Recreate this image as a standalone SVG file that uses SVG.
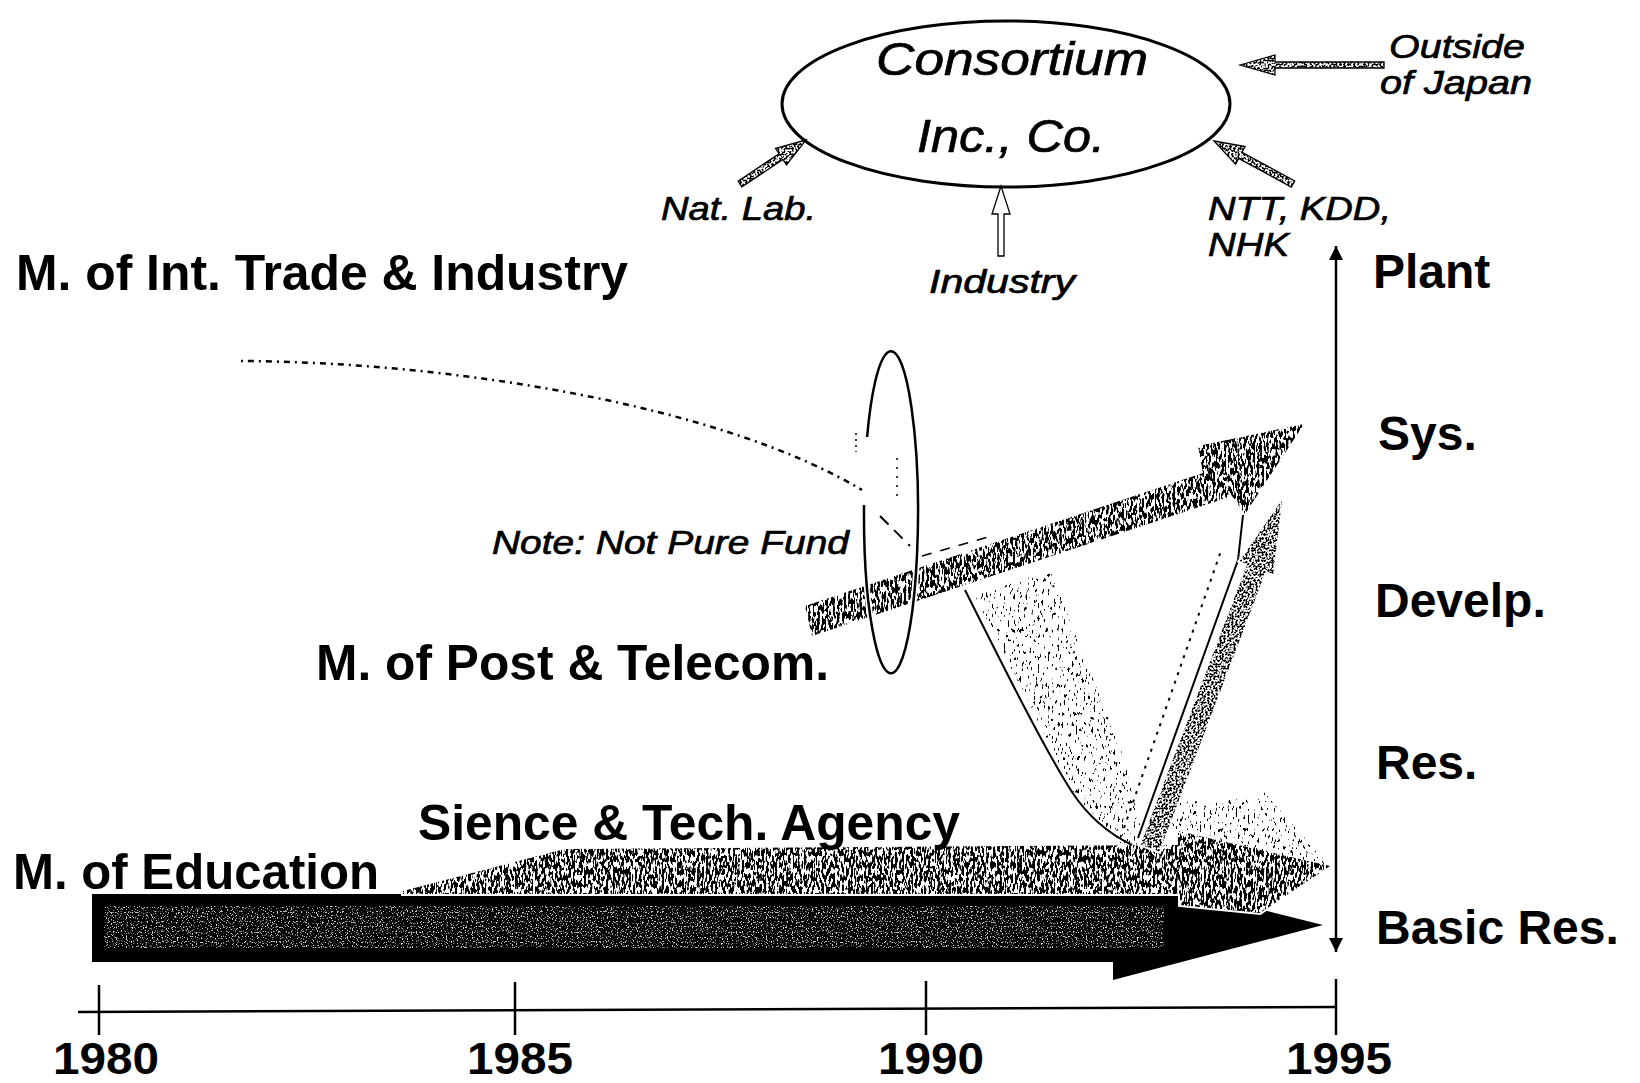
<svg xmlns="http://www.w3.org/2000/svg" width="1640" height="1083" viewBox="0 0 1640 1083">
<style>
  .lbl { font-family: "Liberation Sans", Arial, sans-serif; font-weight: bold; fill: #000; }
  .cond { font-family: "Liberation Sans", Arial, sans-serif; font-weight: bold; fill: #000; }
  .it { font-family: "Liberation Sans", Arial, sans-serif; font-style: italic; fill: #000; stroke: #000; stroke-width: 0.7; }
  .line { fill: none; stroke: #000; }
  .small { stroke: #000; stroke-width: 1.3; fill: #fff; }
</style>
<defs>
  <filter id="spk" x="0" y="0" width="1" height="1" filterUnits="objectBoundingBox">
    <feTurbulence type="fractalNoise" baseFrequency="0.45 0.16" numOctaves="2" seed="4" result="n"/>
    <feColorMatrix in="n" type="matrix" values="0 0 0 0 0  0 0 0 0 0  0 0 0 0 0  16 0 0 0 -7.4" result="d"/>
    <feComposite in="d" in2="SourceAlpha" operator="in"/>
  </filter>
  <filter id="spkMid" x="0" y="0" width="1" height="1" filterUnits="objectBoundingBox">
    <feTurbulence type="fractalNoise" baseFrequency="0.5" numOctaves="2" seed="9" result="n"/>
    <feColorMatrix in="n" type="matrix" values="0 0 0 0 0  0 0 0 0 0  0 0 0 0 0  16 0 0 0 -7.6" result="d"/>
    <feComposite in="d" in2="SourceAlpha" operator="in"/>
  </filter>
  <filter id="spkLight" x="0" y="0" width="1" height="1" filterUnits="objectBoundingBox">
    <feTurbulence type="fractalNoise" baseFrequency="0.5 0.18" numOctaves="2" seed="2" result="n"/>
    <feColorMatrix in="n" type="matrix" values="0 0 0 0 0  0 0 0 0 0  0 0 0 0 0  18 0 0 0 -11.6" result="d"/>
    <feComposite in="d" in2="SourceAlpha" operator="in"/>
  </filter>
  <filter id="spkWhite" x="0" y="0" width="1" height="1" filterUnits="objectBoundingBox">
    <feTurbulence type="fractalNoise" baseFrequency="0.8" numOctaves="1" seed="7" result="n"/>
    <feColorMatrix in="n" type="matrix" values="0 0 0 0 0.6  0 0 0 0 0.6  0 0 0 0 0.6  10 0 0 0 -5.6" result="d"/>
    <feComposite in="d" in2="SourceAlpha" operator="in"/>
  </filter>
  <marker id="ah" viewBox="0 0 14 24" refX="14" refY="12" markerWidth="14" markerHeight="24" markerUnits="userSpaceOnUse" orient="auto-start-reverse">
    <path d="M0,5 L14,12 L0,19 Z" fill="#000"/>
  </marker>
</defs>
<rect width="1640" height="1083" fill="#fff"/>

<g id="education-bar">
  <polygon points="92,894 1200,894 1323,925 1113,980 1113,962 92,962" fill="#000"/>
  <rect x="104" y="906" width="1060" height="42" fill="#000" filter="url(#spkWhite)"/>
</g>

<g id="sta-arrow">
  <polygon points="403,891 565,849 1178,845 1178,831 1330,866 1260,913 1180,905 1180,894 403,894" fill="#fff" stroke="#fff" stroke-width="4"/>
  <polygon points="403,891 565,849 1178,845 1178,831 1330,866 1260,913 1180,905 1180,894 403,894" fill="#000" filter="url(#spk)"/>
</g>

<g id="connectors">
  <polygon points="975,596 1050,570 1125,760 1145,845 1120,843 1075,795" fill="#000" filter="url(#spkLight)"/>
  <polygon points="1160,803 1265,798 1262,790 1330,866 1180,840" fill="#000" filter="url(#spkLight)"/>

  <path class="line" d="M965,590 C1005,670 1045,750 1072,792 Q1095,827 1132,845" stroke-width="2"/>

  <polyline class="line" points="1138,838 1238,560 1243,515" stroke-width="2"/>
  <line class="line" x1="1124" y1="828" x2="1222" y2="548" stroke-width="2" stroke-dasharray="3 6"/>

  <polygon points="1140.6,844.5 1247.2,564 1239.7,561 1282,500 1273.3,574 1265.9,571 1159.4,851.6" fill="#fff" stroke="#fff" stroke-width="4"/>
  <polygon points="1140.6,844.5 1247.2,564 1239.7,561 1282,500 1273.3,574 1265.9,571 1159.4,851.6" fill="#000" filter="url(#spkMid)"/>

  <polygon points="805,606 1203,473 1198,446 1304,424 1245,514 1232,496 812,636" fill="#000" filter="url(#spk)"/>

  <path class="line" d="M241,361 C450,362 720,405 862,490" stroke-width="2.5" stroke-dasharray="2 5 6 5"/>
  <line class="line" x1="880" y1="516" x2="910" y2="546" stroke-width="2" stroke-dasharray="12 8"/>
  <line class="line" x1="922" y1="556" x2="995" y2="535" stroke-width="1.5" stroke-dasharray="10 9"/>
  <line class="line" x1="856" y1="433" x2="856" y2="452" stroke-width="1.5" stroke-dasharray="2 4"/>
  <line class="line" x1="897" y1="458" x2="897" y2="498" stroke-width="1.5" stroke-dasharray="2 7"/>

  <polygon class="small" points="1240,65 1275,55 1275,62 1384,62 1384,68 1275,68 1275,75"/>
  <polygon points="1240,65 1275,55 1275,62 1384,62 1384,68 1275,68 1275,75" fill="#000" filter="url(#spkMid)"/>
  <polygon class="small" points="1001,186 992,214 998,214 998,256 1004,256 1004,214 1010,214"/>
  <polygon class="small" points="806,140 775.5,148.3 779.1,153.7 738.1,181.1 741.9,186.9 782.9,159.5 786.5,164.9"/>
  <polygon points="806,140 775.5,148.3 779.1,153.7 738.1,181.1 741.9,186.9 782.9,159.5 786.5,164.9" fill="#000" filter="url(#spkMid)"/>
  <polygon class="small" points="1214,141 1245.1,146.5 1242,152.2 1294.7,180.9 1291.3,187.1 1238.6,158.4 1235.5,164.1"/>
  <polygon points="1214,141 1245.1,146.5 1242,152.2 1294.7,180.9 1291.3,187.1 1238.6,158.4 1235.5,164.1" fill="#000" filter="url(#spkMid)"/>

  <line class="line" x1="1336" y1="246" x2="1336" y2="952" stroke-width="2.5" marker-start="url(#ah)" marker-end="url(#ah)"/>

  <line class="line" x1="78" y1="1012" x2="1336" y2="1007" stroke-width="2.5"/>
  <line class="line" x1="99" y1="985" x2="99" y2="1035" stroke-width="2.5"/>
  <line class="line" x1="515" y1="982" x2="515" y2="1035" stroke-width="2.5"/>
  <line class="line" x1="926" y1="981" x2="926" y2="1035" stroke-width="2.5"/>
  <line class="line" x1="1336" y1="979" x2="1336" y2="1035" stroke-width="2.5"/>
</g>

<g id="note-ellipse">
  <path d="M867.1,437 A27,161 0 1,1 864,505" fill="none" stroke="#fff" stroke-width="6"/>
  <path d="M867.1,437 A27,161 0 1,1 864,505" fill="none" stroke="#000" stroke-width="2.5"/>
</g>

<g id="consortium">
  <ellipse cx="1006" cy="104" rx="224" ry="83" fill="none" stroke="#000" stroke-width="3"/>
  <text class="it" x="1012" y="75" font-size="46" text-anchor="middle" textLength="272" lengthAdjust="spacingAndGlyphs">Consortium</text>
  <text class="it" x="1011" y="152" font-size="47" text-anchor="middle" textLength="188" lengthAdjust="spacingAndGlyphs">Inc., Co.</text>
</g>

<g id="outside-japan">
  <text class="it" x="1389" y="58" font-size="34" textLength="136" lengthAdjust="spacingAndGlyphs">Outside</text>
  <text class="it" x="1380" y="94" font-size="34" textLength="152" lengthAdjust="spacingAndGlyphs">of Japan</text>
</g>
<g id="nat-lab"><text class="it" x="661" y="220" font-size="34" textLength="155" lengthAdjust="spacingAndGlyphs">Nat. Lab.</text></g>
<g id="industry"><text class="it" x="929" y="293" font-size="34" textLength="146" lengthAdjust="spacingAndGlyphs">Industry</text></g>
<g id="ntt">
  <text class="it" x="1208" y="220" font-size="34" textLength="183" lengthAdjust="spacingAndGlyphs">NTT, KDD,</text>
  <text class="it" x="1208" y="256" font-size="34" textLength="81" lengthAdjust="spacingAndGlyphs">NHK</text>
</g>

<g id="miti"><text class="cond" x="16" y="290" font-size="50" textLength="612" lengthAdjust="spacingAndGlyphs">M. of Int. Trade &amp; Industry</text></g>
<g id="note"><text class="it" x="492" y="554" font-size="34" textLength="357" lengthAdjust="spacingAndGlyphs">Note: Not Pure Fund</text></g>
<g id="mpt"><text class="cond" x="316" y="680" font-size="50" textLength="513" lengthAdjust="spacingAndGlyphs">M. of Post &amp; Telecom.</text></g>
<g id="sta"><text class="cond" x="418" y="840" font-size="50" textLength="542" lengthAdjust="spacingAndGlyphs">Sience &amp; Tech. Agency</text></g>
<g id="education"><text class="cond" x="13" y="889" font-size="50" textLength="366" lengthAdjust="spacingAndGlyphs">M. of Education</text></g>

<g id="levels">
  <text class="lbl" x="1373" y="288" font-size="48">Plant</text>
  <text class="lbl" x="1378" y="450" font-size="48">Sys.</text>
  <text class="lbl" x="1375" y="617" font-size="48">Develp.</text>
  <text class="lbl" x="1376" y="779" font-size="48">Res.</text>
  <text class="lbl" x="1376" y="944" font-size="48">Basic Res.</text>
</g>

<g id="years">
  <text class="cond" x="106" y="1074" font-size="44" text-anchor="middle" textLength="106" lengthAdjust="spacingAndGlyphs">1980</text>
  <text class="cond" x="520" y="1074" font-size="44" text-anchor="middle" textLength="106" lengthAdjust="spacingAndGlyphs">1985</text>
  <text class="cond" x="931" y="1074" font-size="44" text-anchor="middle" textLength="106" lengthAdjust="spacingAndGlyphs">1990</text>
  <text class="cond" x="1339" y="1074" font-size="44" text-anchor="middle" textLength="106" lengthAdjust="spacingAndGlyphs">1995</text>
</g>
</svg>
